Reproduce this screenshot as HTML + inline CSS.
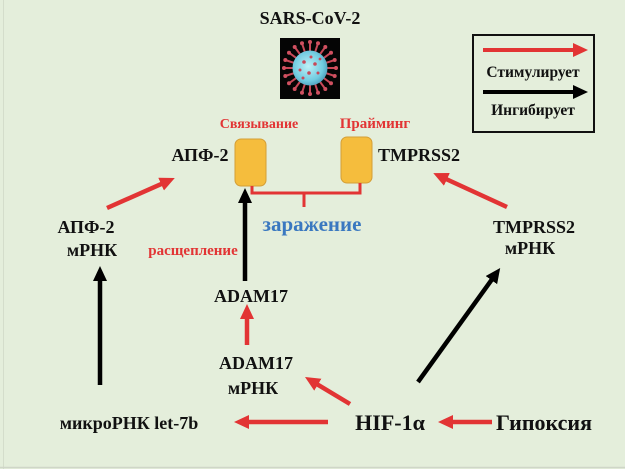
<!DOCTYPE html>
<html><head><meta charset="utf-8"><style>
html,body{margin:0;padding:0;background:#e4eedb;}
svg{display:block;}
text{font-family:"Liberation Serif","DejaVu Serif",serif;font-weight:bold;}
</style></head><body>
<svg width="625" height="469" viewBox="0 0 625 469" xmlns="http://www.w3.org/2000/svg">
<defs>
<marker id="mr" markerUnits="userSpaceOnUse" markerWidth="16" markerHeight="16" refX="1" refY="7" orient="auto"><path d="M0,0 L15,7 L0,14 z" fill="#e23434"/></marker>
<marker id="mb" markerUnits="userSpaceOnUse" markerWidth="16" markerHeight="16" refX="1" refY="7" orient="auto"><path d="M0,0 L15,7 L0,14 z" fill="#000"/></marker>
<radialGradient id="vg" cx="0.45" cy="0.45" r="0.6"><stop offset="0" stop-color="#bff0f6"/><stop offset="0.7" stop-color="#70cbe0"/><stop offset="1" stop-color="#4a9ab8"/></radialGradient>
</defs>
<rect x="0" y="0" width="625" height="469" fill="#e4eedb"/>
<line x1="3.5" y1="0" x2="3.5" y2="469" stroke="#d4ddcb" stroke-width="1"/>
<line x1="0" y1="467.5" x2="625" y2="467.5" stroke="#cfd6c8" stroke-width="1.5"/>

<!-- Title -->
<text x="310" y="24" font-size="18" text-anchor="middle" fill="#111">SARS-CoV-2</text>

<!-- Virus -->
<rect x="280" y="38" width="60" height="61" fill="#050505"/>
<g stroke="#c84858" stroke-width="2">
<line x1="325" y1="68" x2="336" y2="68"/><line x1="324.3" y1="72.6" x2="334.7" y2="76"/>
<line x1="322.1" y1="76.8" x2="331" y2="83.3"/><line x1="318.8" y1="80.1" x2="325.3" y2="89"/>
<line x1="314.6" y1="82.3" x2="318" y2="92.7"/><line x1="310" y1="83" x2="310" y2="94"/>
<line x1="305.4" y1="82.3" x2="302" y2="92.7"/><line x1="301.2" y1="80.1" x2="294.7" y2="89"/>
<line x1="297.9" y1="76.8" x2="289" y2="83.3"/><line x1="295.7" y1="72.6" x2="285.3" y2="76"/>
<line x1="295" y1="68" x2="284" y2="68"/><line x1="295.7" y1="63.4" x2="285.3" y2="60"/>
<line x1="297.9" y1="59.2" x2="289" y2="52.7"/><line x1="301.2" y1="55.9" x2="294.7" y2="47"/>
<line x1="305.4" y1="53.7" x2="302" y2="43.3"/><line x1="310" y1="53" x2="310" y2="42"/>
<line x1="314.6" y1="53.7" x2="318" y2="43.3"/><line x1="318.8" y1="55.9" x2="325.3" y2="47"/>
<line x1="322.1" y1="59.2" x2="331" y2="52.7"/><line x1="324.3" y1="63.4" x2="334.7" y2="60"/>
</g>
<g fill="#d05060">
<circle cx="336" cy="68" r="2"/><circle cx="334.7" cy="76" r="2"/><circle cx="331" cy="83.3" r="2"/><circle cx="325.3" cy="89" r="2"/><circle cx="318" cy="92.7" r="2"/><circle cx="310" cy="94" r="2"/><circle cx="302" cy="92.7" r="2"/><circle cx="294.7" cy="89" r="2"/><circle cx="289" cy="83.3" r="2"/><circle cx="285.3" cy="76" r="2"/><circle cx="284" cy="68" r="2"/><circle cx="285.3" cy="60" r="2"/><circle cx="289" cy="52.7" r="2"/><circle cx="294.7" cy="47" r="2"/><circle cx="302" cy="43.3" r="2"/><circle cx="310" cy="42" r="2"/><circle cx="318" cy="43.3" r="2"/><circle cx="325.3" cy="47" r="2"/><circle cx="331" cy="52.7" r="2"/><circle cx="334.7" cy="60" r="2"/>
</g>
<circle cx="310" cy="68" r="17.5" fill="url(#vg)"/>
<g fill="#c84858">
<circle cx="304" cy="62" r="1.8"/><circle cx="315" cy="64" r="1.8"/><circle cx="309" cy="73" r="1.8"/><circle cx="300" cy="70" r="1.5"/><circle cx="318" cy="73" r="1.5"/><circle cx="311" cy="57" r="1.5"/><circle cx="303" cy="78" r="1.5"/><circle cx="320" cy="59" r="1.4"/>
</g>

<!-- Legend -->
<rect x="473" y="35" width="121" height="97" fill="none" stroke="#111" stroke-width="2"/>
<line x1="483" y1="50" x2="574" y2="50" stroke="#e23434" stroke-width="4" marker-end="url(#mr)"/>
<text x="533" y="77" font-size="15.5" text-anchor="middle" fill="#111">Стимулирует</text>
<line x1="483" y1="92" x2="574" y2="92" stroke="#000" stroke-width="4" marker-end="url(#mb)"/>
<text x="533" y="115" font-size="15.5" text-anchor="middle" fill="#111">Ингибирует</text>

<!-- Receptors -->
<text x="259" y="128" font-size="14" text-anchor="middle" fill="#e23434">Связывание</text>
<text x="375" y="128" font-size="15" text-anchor="middle" fill="#e23434">Прайминг</text>
<rect x="235" y="139" width="31" height="47" rx="6" fill="#f5bd3d" stroke="#d49e36" stroke-width="1"/>
<rect x="341" y="137" width="31" height="46" rx="6" fill="#f5bd3d" stroke="#d49e36" stroke-width="1"/>
<text x="200" y="161" font-size="18" text-anchor="middle" fill="#111">АПФ-2</text>
<text x="378" y="161" font-size="18" fill="#111">TMPRSS2</text>
<path d="M252,186 V193 H360 V183 M304,193 V207" fill="none" stroke="#e23434" stroke-width="3"/>
<text x="312" y="231" font-size="21" text-anchor="middle" fill="#3a78c0">заражение</text>

<!-- Left column -->
<text x="86" y="233" font-size="18" text-anchor="middle" fill="#111">АПФ-2</text>
<text x="92" y="256" font-size="18" text-anchor="middle" fill="#111">мРНК</text>
<text x="193" y="255" font-size="15" text-anchor="middle" fill="#e23434">расщепление</text>

<!-- Right column -->
<text x="534" y="233" font-size="18" text-anchor="middle" fill="#111">TMPRSS2</text>
<text x="530" y="254" font-size="18" text-anchor="middle" fill="#111">мРНК</text>

<!-- ADAM17 -->
<text x="251" y="302" font-size="18" text-anchor="middle" fill="#111">ADAM17</text>
<text x="256" y="369" font-size="18" text-anchor="middle" fill="#111">ADAM17</text>
<text x="253" y="394" font-size="18" text-anchor="middle" fill="#111">мРНК</text>

<!-- Bottom row -->
<text x="129" y="429" font-size="18" text-anchor="middle" fill="#111">микроРНК let-7b</text>
<text x="390" y="430" font-size="22" text-anchor="middle" fill="#111">HIF-1α</text>
<text x="544" y="430" font-size="22" text-anchor="middle" fill="#111">Гипоксия</text>

<!-- Arrows -->
<line x1="107" y1="208" x2="162" y2="183.7" stroke="#e23434" stroke-width="4.5" marker-end="url(#mr)"/>
<line x1="507" y1="207" x2="446" y2="179" stroke="#e23434" stroke-width="4.5" marker-end="url(#mr)"/>
<line x1="100" y1="385" x2="100" y2="280" stroke="#000" stroke-width="4.5" marker-end="url(#mb)"/>
<line x1="245" y1="281" x2="245" y2="202" stroke="#000" stroke-width="4.5" marker-end="url(#mb)"/>
<line x1="247" y1="345" x2="247" y2="318" stroke="#e23434" stroke-width="4.5" marker-end="url(#mr)"/>
<line x1="350" y1="404" x2="317" y2="384.2" stroke="#e23434" stroke-width="4.5" marker-end="url(#mr)"/>
<line x1="418" y1="382" x2="492" y2="279.3" stroke="#000" stroke-width="4.5" marker-end="url(#mb)"/>
<line x1="328" y1="422" x2="248" y2="422" stroke="#e23434" stroke-width="4.5" marker-end="url(#mr)"/>
<line x1="492" y1="422" x2="452" y2="422" stroke="#e23434" stroke-width="4.5" marker-end="url(#mr)"/>
</svg>
</body></html>
